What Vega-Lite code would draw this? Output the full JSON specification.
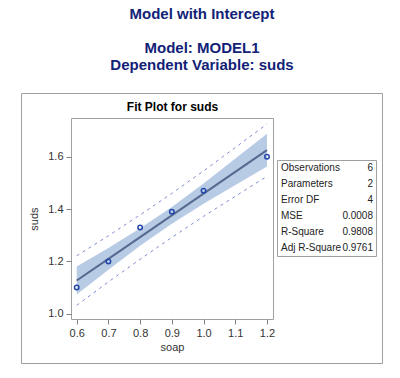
{
  "$schema": "https://vega.github.io/schema/vega-lite/v6.json",
  "width": 202,
  "height": 201,
  "autosize": "none",
  "padding": {"left": 71, "top": 118, "right": 127, "bottom": 59},
  "background": "white",
  "title": {
    "text": "Model with Intercept",
    "subtitle": ["Model: MODEL1", "Dependent Variable: suds"],
    "anchor": "middle",
    "dx": 30,
    "font": "Liberation Sans",
    "subtitleFont": "Liberation Sans",
    "fontSize": 15,
    "subtitleFontSize": 15,
    "fontWeight": "bold",
    "subtitleFontWeight": "bold",
    "color": "#112277",
    "subtitleColor": "#112277",
    "subtitlePadding": 19,
    "subtitleLineHeight": 17,
    "offset": 20
  },
  "config": {
    "font": "Liberation Sans",
    "view": {"stroke": "#a0a0a0", "strokeWidth": 1},
    "axis": {
      "grid": false,
      "domainColor": "#a0a0a0",
      "tickColor": "#808080",
      "labelColor": "#333333",
      "titleColor": "#333333",
      "labelFont": "Liberation Sans",
      "titleFont": "Liberation Sans",
      "labelFontSize": 11,
      "titleFontSize": 11,
      "titleFontWeight": "normal"
    }
  },
  "datasets": {
    "fit": [
      {"soap": 0.6, "suds": 1.10, "pred": 1.127, "lclm": 1.0736, "uclm": 1.1804, "lcl": 1.0326, "ucl": 1.2214},
      {"soap": 0.7, "suds": 1.20, "pred": 1.210, "lclm": 1.1684, "uclm": 1.2516, "lcl": 1.1218, "ucl": 1.2982},
      {"soap": 0.8, "suds": 1.33, "pred": 1.293, "lclm": 1.2595, "uclm": 1.3265, "lcl": 1.2083, "ucl": 1.3777},
      {"soap": 0.9, "suds": 1.39, "pred": 1.376, "lclm": 1.3438, "uclm": 1.4082, "lcl": 1.2918, "ucl": 1.4602},
      {"soap": 1.0, "suds": 1.47, "pred": 1.459, "lclm": 1.4207, "uclm": 1.4973, "lcl": 1.3723, "ucl": 1.5457},
      {"soap": 1.2, "suds": 1.60, "pred": 1.625, "lclm": 1.5626, "uclm": 1.6874, "lcl": 1.5253, "ucl": 1.7247}
    ],
    "stats": [
      {"stat": "Observations", "value": "6"},
      {"stat": "Parameters", "value": "2"},
      {"stat": "Error DF", "value": "4"},
      {"stat": "MSE", "value": "0.0008"},
      {"stat": "R-Square", "value": "0.9808"},
      {"stat": "Adj R-Square", "value": "0.9761"}
    ]
  },
  "resolve": {
    "scale": {"x": "independent", "y": "independent"},
    "axis": {"x": "independent", "y": "independent"}
  },
  "layer": [
    {
      "data": {"name": "fit"},
      "encoding": {
        "x": {
          "field": "soap", "type": "quantitative",
          "scale": {"domain": [0.582, 1.219], "nice": false, "zero": false},
          "axis": {"orient": "bottom", "values": [0.6, 0.7, 0.8, 0.9, 1.0, 1.1, 1.2], "format": ".1f", "domain": false, "tickSize": 5, "labelPadding": 3, "title": "soap", "titlePadding": 3}
        }
      },
      "layer": [
        {
          "mark": {"type": "area", "color": "#b8cbe5", "opacity": 1},
          "encoding": {
            "y": {
              "field": "lclm", "type": "quantitative",
              "scale": {"domain": [0.98, 1.748], "nice": false, "zero": false},
              "axis": {"orient": "left", "values": [1.0, 1.2, 1.4, 1.6], "format": ".1f", "domain": false, "tickSize": 5, "labelPadding": 3, "title": "suds", "titlePadding": 8}
            },
            "y2": {"field": "uclm"}
          }
        },
        {
          "mark": {"type": "line", "color": "#7f8bd4", "strokeWidth": 1, "strokeDash": [3, 4]},
          "encoding": {"y": {"field": "lcl", "type": "quantitative"}}
        },
        {
          "mark": {"type": "line", "color": "#7f8bd4", "strokeWidth": 1, "strokeDash": [3, 4]},
          "encoding": {"y": {"field": "ucl", "type": "quantitative"}}
        },
        {
          "mark": {"type": "line", "color": "#56698f", "strokeWidth": 2},
          "encoding": {"y": {"field": "pred", "type": "quantitative"}}
        },
        {
          "mark": {"type": "point", "shape": "circle", "filled": false, "color": "#2347a8", "size": 20, "strokeWidth": 1.5, "opacity": 1},
          "encoding": {"y": {"field": "suds", "type": "quantitative"}}
        }
      ]
    },
    {
      "data": {"values": [{}]},
      "mark": {"type": "point", "opacity": 0},
      "encoding": {
        "x": {
          "datum": 0.9, "type": "quantitative",
          "scale": {"domain": [0.582, 1.219], "nice": false, "zero": false},
          "axis": {"orient": "top", "domain": false, "ticks": false, "labels": false, "title": "Fit Plot for suds", "titleFontWeight": "bold", "titleColor": "#000000", "titleFontSize": 12, "titlePadding": 5}
        }
      }
    },
    {
      "data": {"values": [{}]},
      "mark": {"type": "point", "opacity": 0},
      "encoding": {
        "x": {
          "datum": 0.5, "type": "quantitative",
          "scale": {"domain": [0, 1], "range": [-50, 311], "nice": false, "zero": false},
          "axis": {"orient": "bottom", "offset": 44, "ticks": false, "labels": false, "title": null}
        },
        "y": {
          "datum": 0.5, "type": "quantitative",
          "scale": {"domain": [0, 1], "range": [245, -25], "nice": false, "zero": false},
          "axis": {"orient": "left", "offset": 50, "ticks": false, "labels": false, "title": null}
        }
      }
    },
    {
      "data": {"values": [{}]},
      "mark": {"type": "point", "opacity": 0},
      "encoding": {
        "x": {
          "datum": 0.5, "type": "quantitative",
          "scale": {"domain": [0, 1], "range": [-50, 311], "nice": false, "zero": false},
          "axis": {"orient": "top", "offset": 25, "ticks": false, "labels": false, "title": null}
        },
        "y": {
          "datum": 0.5, "type": "quantitative",
          "scale": {"domain": [0, 1], "range": [245, -25], "nice": false, "zero": false},
          "axis": {"orient": "right", "offset": 109, "ticks": false, "labels": false, "title": null}
        }
      }
    },
    {
      "data": {"name": "stats"},
      "mark": {"type": "text", "align": "left", "baseline": "middle", "dx": 4, "fontSize": 10, "color": "#222222", "font": "Liberation Sans"},
      "encoding": {
        "text": {"field": "stat"},
        "x": {
          "datum": 0, "type": "quantitative",
          "scale": {"domain": [0, 1], "range": [206, 305], "nice": false, "zero": false},
          "axis": {"orient": "bottom", "offset": -63, "ticks": false, "labels": false, "title": null}
        },
        "y": {
          "field": "stat", "type": "nominal", "sort": null,
          "scale": {"type": "band", "range": [42, 138], "paddingInner": 0, "paddingOuter": 0},
          "axis": {"orient": "left", "offset": -206, "ticks": false, "labels": false, "title": null}
        }
      }
    },
    {
      "data": {"name": "stats"},
      "mark": {"type": "text", "align": "right", "baseline": "middle", "dx": -3, "fontSize": 10, "color": "#222222", "font": "Liberation Sans"},
      "encoding": {
        "text": {"field": "value"},
        "x": {
          "datum": 1, "type": "quantitative",
          "scale": {"domain": [0, 1], "range": [206, 305], "nice": false, "zero": false},
          "axis": {"orient": "top", "offset": -42, "ticks": false, "labels": false, "title": null}
        },
        "y": {
          "field": "stat", "type": "nominal", "sort": null,
          "scale": {"type": "band", "range": [42, 138], "paddingInner": 0, "paddingOuter": 0},
          "axis": {"orient": "right", "offset": 103, "ticks": false, "labels": false, "title": null}
        }
      }
    }
  ]
}
